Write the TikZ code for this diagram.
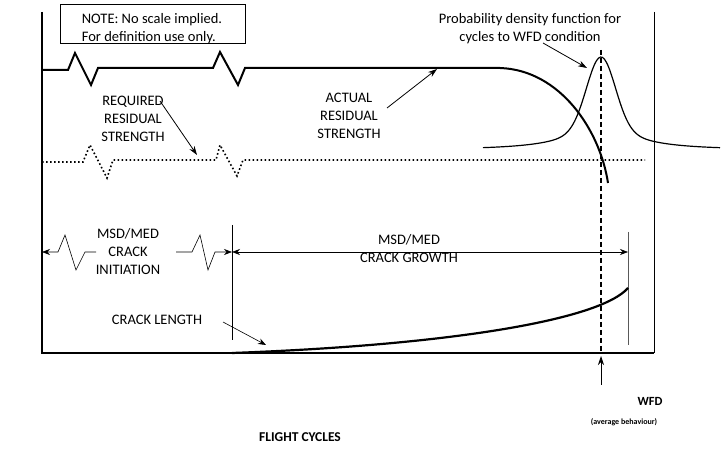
\documentclass[tikz,border=0pt]{standalone}
\usepackage{fontspec}
\setmainfont{Carlito}
\usetikzlibrary{arrows.meta}
\begin{document}
\begin{tikzpicture}[x=1pt,y=-1pt,
  lbl/.style={font=\fontsize{14.5}{18}\selectfont,align=center,inner sep=0pt},
  ptr/.style={-{Stealth[length=9pt,width=6pt]},line width=0.8pt},
  thk/.style={line width=2pt},
  dim/.style={line width=0.6pt}]
\useasboundingbox (0,0) rectangle (724,449);
% frame
\draw[line width=1.8pt] (42,12) -- (42,353) -- (654,353);
\draw[line width=1pt] (654,12) -- (654,353);
% note
\node[draw,line width=0.6pt,minimum width=185pt,minimum height=39pt,inner sep=0pt] (note) at (152.5,23.5) {};
\node[lbl,align=left] (notet) at (152,29) {NOTE: No scale implied.\\For definition use only.};
% actual strength
\draw[thk,line join=miter] (42,70) -- (68,70) -- (75,53) -- (91,85) -- (98,68) -- (213,68) -- (220,52) -- (238,85) -- (245,68) -- (500,68)
  .. controls (560,70) and (600,130) .. (608,183);
% required
\draw[line width=1.6pt,dash pattern=on 1.6pt off 2.4pt] (42,162) -- (83,162) -- (90,145) -- (107,178) -- (113,160) -- (216,160) -- (220,145) -- (237,176) -- (243,160) -- (645,160);
% pdf
\draw[line width=1.2pt,domain=483:720,samples=120,smooth] plot (\x,{150-68*exp(-((\x-601)/20)^2)-25/(1+((\x-601)/38)^2)});
% dashed WFD
\draw[line width=1.4pt,dash pattern=on 5pt off 3pt] (601,50) -- (601,353);
\coordinate (wfdb) at (601,385);
\coordinate (wfdt) at (601,356);
\draw[ptr] (wfdb) -- (wfdt);
% crack initiation
\coordinate (l0) at (42,252);
\draw[dim,{Stealth[length=8pt,width=6pt]}-] (l0) -- (58,252) -- (65,235) -- (76,270) -- (85,252) -- (96,252);
\node[lbl] (init) at (128,252) {MSD/MED\\CRACK\\INITIATION};
\coordinate (r0) at (232,252);
\draw[dim,-{Stealth[length=8pt,width=6pt]}] (176,252) -- (192,252) -- (200,235) -- (208,270) -- (215,252) -- (r0);
\draw[line width=1pt] (232,225) -- (232,340);
\coordinate (g1) at (628,252);
\draw[dim,{Stealth[length=8pt,width=6pt]}-{Stealth[length=8pt,width=6pt]}] (r0) -- (g1);
\draw[line width=1pt,gray!70!black] (628,232) -- (628,345);
\node[lbl] (growth) at (409,249) {MSD/MED\\CRACK GROWTH};
% crack length
\draw[line width=2.2pt] (232,353) .. controls (450,345) and (600,320) .. (628,288);
\node[lbl] (cl) at (157,320) {CRACK LENGTH};
\coordinate (clt) at (266,345);
\draw[dim,-{Stealth[length=8pt,width=6pt]}] (223,322) -- (clt);
% labels
\node[lbl] (req) at (133,119) {REQUIRED\\RESIDUAL\\STRENGTH};
\coordinate (reqt) at (197,155);
\draw[ptr] (160,101) -- (reqt);
\node[lbl] (act) at (349,116) {ACTUAL\\RESIDUAL\\STRENGTH};
\coordinate (actt) at (437,69);
\draw[ptr] (387,108) -- (actt);
\node[lbl] (pdf) at (530,29) {Probability density function for\\cycles to WFD condition};
\coordinate (pdft) at (587,68);
\draw[ptr] (543,43) -- (pdft);
\node[font=\bfseries\fontsize{12.5}{14}\selectfont,inner sep=0pt] (wfd) at (650,401) {WFD};
\node[font=\bfseries\fontsize{8}{9}\selectfont,inner sep=0pt] (avg) at (624,422) {(average behaviour)};
\node[font=\bfseries\fontsize{13.5}{16}\selectfont,inner sep=0pt] (fc) at (300,437) {FLIGHT CYCLES};
\end{tikzpicture}
\end{document}
